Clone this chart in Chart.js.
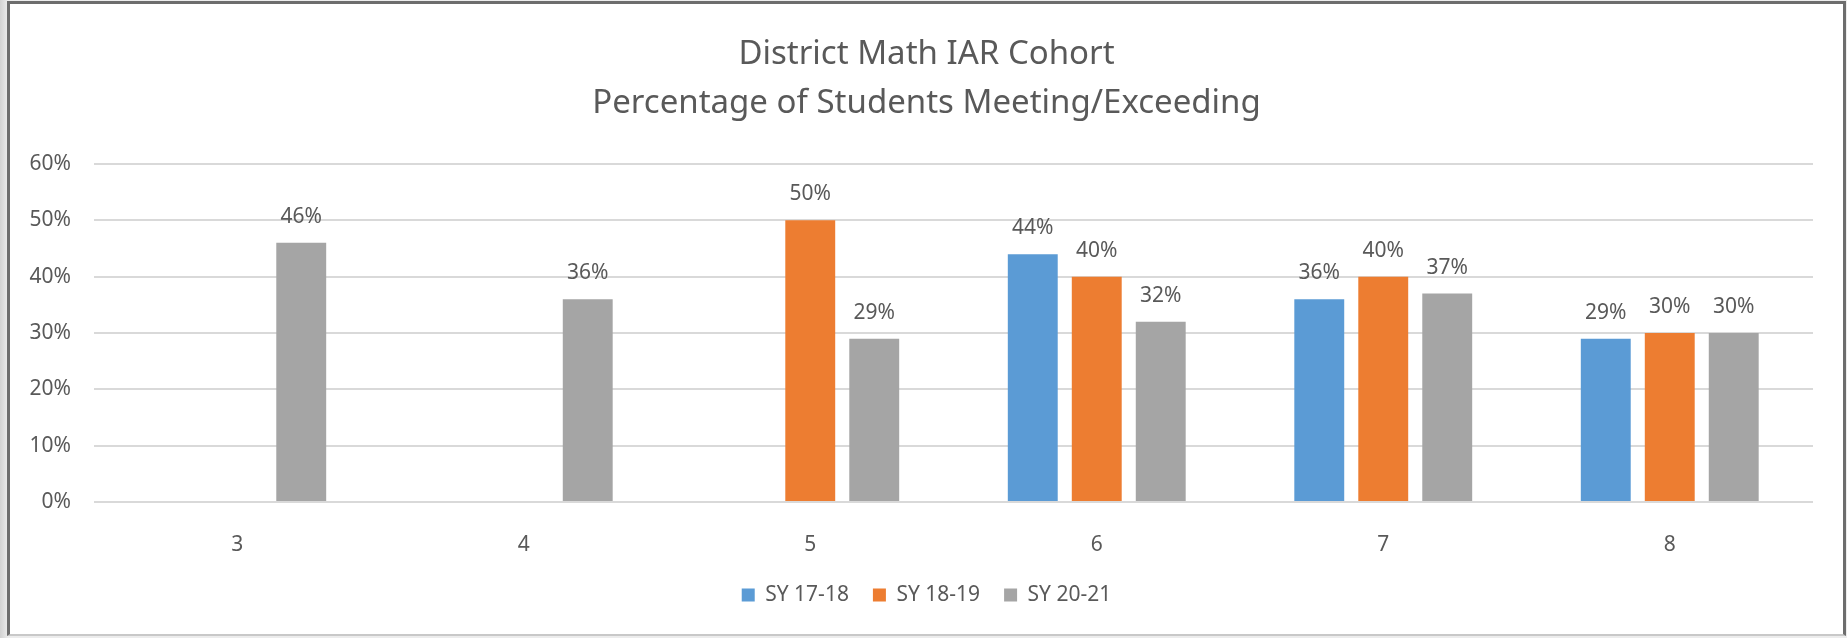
<!DOCTYPE html>
<html>
<head>
<meta charset="utf-8">
<title>District Math IAR Cohort</title>
<script src="https://cdn.jsdelivr.net/npm/chart.js@4.4.1/dist/chart.umd.min.js"></script>
<style>
    html, body { margin: 0; padding: 0; }
    body {
        width: 1847px;
        height: 638px;
        overflow: hidden;
        position: relative;
        background: linear-gradient(to right, #d2d2d2, #ececec 8px, #ececec);
    }
    #frame {
        position: absolute;
        left: 7px;
        top: 1px;
        width: 1833px;
        height: 630px;
        background: #ffffff;
        border: 3px solid #6d6d6d;
        border-bottom: 2px solid #c8c8c8;
    }
    #wrap { position: relative; width: 1833px; height: 630px; }
</style>
</head>
<body>
<div id="frame">
    <div id="wrap"><canvas id="cohortChart"></canvas></div>
</div>

<script>
// data
const grades = ["3", "4", "5", "6", "7", "8"];
const sy1718 = [null, null, null, 44, 36, 29];
const sy1819 = [null, null, 50, 40, 40, 30];
const sy2021 = [46, 36, 29, 32, 37, 30];
const seriesNames = ["SY 17-18", "SY 18-19", "SY 20-21"];
const yTicks = [0, 10, 20, 30, 40, 50, 60];
const titleLines = ["District Math IAR Cohort", "Percentage of Students Meeting/Exceeding"];

const textColor = "#595959";
const fontFamily = "'Noto Sans', 'Open Sans', sans-serif";

// value labels above each bar
const barLabels = {
    id: "barLabels",
    afterDatasetsDraw(chart) {
        const ctx = chart.ctx;
        ctx.save();
        ctx.font = "21px " + fontFamily;
        ctx.fillStyle = textColor;
        ctx.textAlign = "center";
        ctx.textBaseline = "alphabetic";
        chart.data.datasets.forEach((ds, i) => {
            const meta = chart.getDatasetMeta(i);
            meta.data.forEach((bar, j) => {
                const v = ds.data[j];
                if (v === null || v === undefined) return;
                ctx.fillText(v + "%", bar.x, bar.y - 20);
            });
        });
        ctx.restore();
    }
};

function initChart() {
    const ctx = document.getElementById("cohortChart");

    new Chart(ctx, {
        type: "bar",
        data: {
            labels: grades,
            datasets: [
                { label: seriesNames[0], data: sy1718, backgroundColor: "#5B9BD5" },
                { label: seriesNames[1], data: sy1819, backgroundColor: "#ED7D31" },
                { label: seriesNames[2], data: sy2021, backgroundColor: "#A5A5A5" }
            ]
        },
        plugins: [barLabels],
        options: {
            responsive: true,
            maintainAspectRatio: false,
            animation: false,
            categoryPercentage: 0.67,
            barPercentage: 0.78,
            layout: { padding: { left: 0, right: 0, top: 0, bottom: 18.5 } },
            plugins: {
                tooltip: { enabled: false },
                title: {
                    display: true,
                    text: titleLines,
                    color: textColor,
                    font: { family: fontFamily, size: 33, weight: "normal", lineHeight: 49 / 33 },
                    padding: { top: 26, bottom: 36 }
                },
                legend: {
                    position: "bottom",
                    labels: {
                        color: textColor,
                        font: { family: fontFamily, size: 21 },
                        boxWidth: 13,
                        boxHeight: 13,
                        padding: 24
                    }
                }
            },
            scales: {
                x: {
                    grid: { display: false },
                    border: { display: false },
                    ticks: {
                        color: textColor,
                        font: { family: fontFamily, size: 21 },
                        padding: 22
                    },
                    afterFit(scale) { scale.height = 58.5; }
                },
                y: {
                    min: 0,
                    max: 60,
                    afterBuildTicks(scale) {
                        scale.ticks = yTicks.map(v => ({ value: v }));
                    },
                    grid: { color: "#d9d9d9", lineWidth: 2, drawTicks: false },
                    border: { display: false },
                    ticks: {
                        color: textColor,
                        font: { family: fontFamily, size: 21 },
                        padding: 23,
                        callback: v => v + "%"
                    },
                    afterFit(scale) { scale.width = 84; }
                },
                // empty right-hand axis, keeps the plot symmetric in the frame
                yRight: {
                    position: "right",
                    min: 0,
                    max: 60,
                    grid: { display: false },
                    border: { display: false },
                    ticks: { display: false },
                    afterFit(scale) { scale.width = 30; }
                }
            }
        }
    });
}

window.onload = () => {
    initChart();
};
</script>
</body>
</html>
